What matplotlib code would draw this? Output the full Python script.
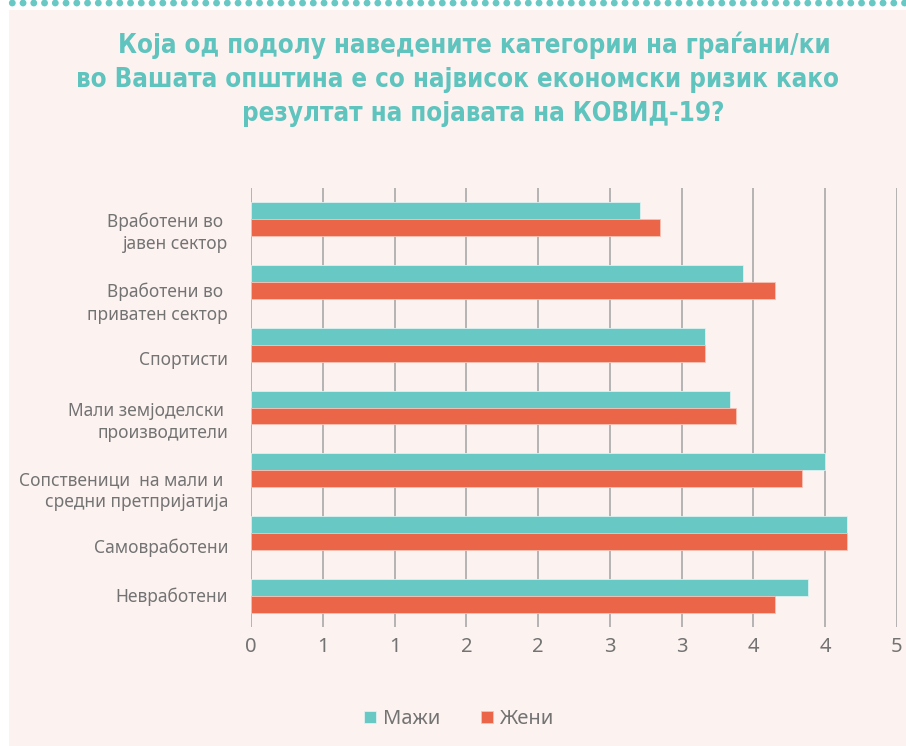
import matplotlib
matplotlib.use("Agg")
import matplotlib.pyplot as plt
import matplotlib.transforms as mtransforms
import numpy as np
from matplotlib.patches import Rectangle

categories = [
    "Вработени во \nјавен сектор",
    "Вработени во \nприватен сектор",
    "Спортисти",
    "Мали земјоделски \nпроизводители",
    "Сопственици  на мали и \nсредни претпријатија",
    "Самовработени",
    "Невработени",
]
series_names = ["Мажи", "Жени"]
men = [2.71, 3.43, 3.16, 3.34, 4.00, 4.15, 3.88]
women = [2.85, 3.65, 3.16, 3.38, 3.84, 4.15, 3.65]
xticks = [0, 0.5, 1, 1.5, 2, 2.5, 3, 3.5, 4, 4.5]
xtick_labels = ["0", "1", "1", "2", "2", "3", "3", "4", "4", "5"]
title_lines = [
    "Која од подолу наведените категории на граѓани/ки",
    "во Вашата општина е со највисок економски ризик како",
    "резултат на појавата на КОВИД-19?",
]

# layout: vertical pixel shift of each category label (downwards)
label_shift_px = [9, 17, 13, 10, 17, 13, -1]

TEAL = "#68C8C4"
ORANGE = "#EB6549"
BG = "#FCF3F1"
GRID = "#B5B3B3"
TXT = "#737373"
TITLE = "#5FC3BE"
FONT = ["Noto Sans", "DejaVu Sans"]
plt.rcParams["font.family"] = FONT

W, H = 906, 746
fig = plt.figure(figsize=(W / 100, H / 100), dpi=100)
fig.patch.set_facecolor("white")

# background decoration
bg = fig.add_axes([0, 0, 1, 1], zorder=-10)
bg.set_xlim(0, W)
bg.set_ylim(H, 0)
bg.axis("off")
bg.add_patch(Rectangle((9, 10), W - 9, H - 10, facecolor=BG, edgecolor="none"))
dots_x = np.arange(12.3, W, 10.75)
bg.scatter(dots_x, np.full_like(dots_x, 3.0), s=24, color=TEAL, edgecolors="none")

# title
title_pos = [(474, 53), (457, 87), (483, 121)]
for (tx, ty), line in zip(title_pos, title_lines):
    fig.text(tx / W, 1 - ty / H, line, ha="center", va="baseline",
             fontsize=18.5, fontweight="bold", color=TITLE,
             family="DejaVu Sans", fontstretch="condensed")

# main axes
left, right, top, bottom = 251, 897, 188, 627
ax = fig.add_axes([left / W, 1 - bottom / H, (right - left) / W, (bottom - top) / H])
ax.set_facecolor("none")
y = np.arange(len(categories))
h = 0.27
ax.barh(y - h / 2, men, height=h, color=TEAL, edgecolor="#DDF2F1", linewidth=0.6, zorder=3, label=series_names[0])
ax.barh(y + h / 2, women, height=h, color=ORANGE, edgecolor="#F6C2B6", linewidth=0.6, zorder=3, label=series_names[1])
ax.set_ylim(len(categories) - 0.5, -0.5)
ax.set_xlim(0, 4.5)
ax.set_xticks(xticks)
ax.set_xticklabels(xtick_labels, fontsize=14.5, color=TXT)
ax.set_yticks(y)
ax.set_yticklabels(categories, fontsize=12.5, color=TXT, linespacing=1.3)
ax.tick_params(axis="y", length=0, pad=16.5)
ax.tick_params(axis="x", length=0, pad=7)
for lbl, dy in zip(ax.get_yticklabels(), label_shift_px):
    off = mtransforms.ScaledTranslation(0, -dy / 100, fig.dpi_scale_trans)
    lbl.set_transform(lbl.get_transform() + off)
ax.grid(axis="x", color=GRID, linewidth=1.4, zorder=0)
ax.axvline(4.5, color=GRID, linewidth=1.4, zorder=0)
for s in ax.spines.values():
    s.set_visible(False)

leg = fig.legend(handles=ax.patches[:1] + ax.patches[len(categories):len(categories) + 1],
                 labels=series_names, loc="center", bbox_to_anchor=(459 / W, 1 - 719 / H),
                 ncol=2, frameon=False, fontsize=14.5, handlelength=0.6, handleheight=0.6,
                 columnspacing=2.0, handletextpad=0.35)
for t in leg.get_texts():
    t.set_color(TXT)

fig.savefig("out.png", dpi=100, facecolor=fig.get_facecolor())
